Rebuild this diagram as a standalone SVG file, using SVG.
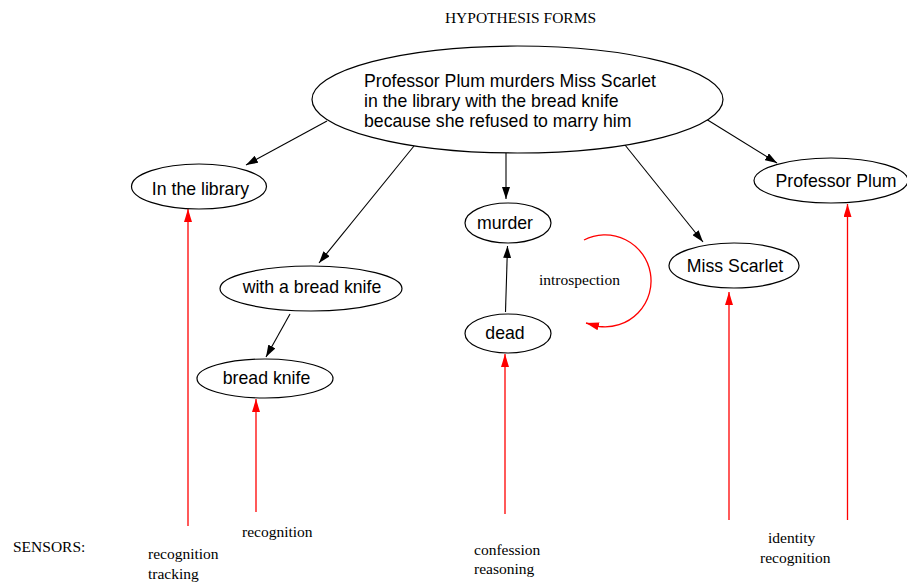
<svg xmlns="http://www.w3.org/2000/svg" width="907" height="583" viewBox="0 0 907 583">
<style>
.node ellipse{fill:#fff;stroke:#000;stroke-width:1.2}
.node text{font-family:"Liberation Sans",Arial,sans-serif;font-size:17.7px;fill:#000;text-anchor:middle}
.lbl{font-family:"Liberation Serif","Times New Roman",serif;font-size:15.5px;fill:#000}
.blk{stroke:#000;stroke-width:1.1;fill:none;marker-end:url(#ab)}
.red{stroke:#f00;stroke-width:1.3;fill:none;marker-end:url(#ar)}
</style>
<defs>
<marker id="ab" markerWidth="12" markerHeight="8" refX="12" refY="4" orient="auto" markerUnits="userSpaceOnUse"><path d="M0,0 L12,4 L0,8 z" fill="#000"/></marker>
<marker id="ar" markerWidth="13" markerHeight="8" refX="13" refY="4" orient="auto" markerUnits="userSpaceOnUse"><path d="M0,0 L13,4 L0,8 z" fill="#f00"/></marker>
</defs>
<rect width="907" height="583" fill="#fff"/>
<text class="lbl" x="520.5" y="23" text-anchor="middle">HYPOTHESIS FORMS</text>
<g id="connectors">
<line class="blk" x1="327" y1="121" x2="246" y2="165"/>
<line class="blk" x1="414" y1="146" x2="319" y2="263"/>
<line class="blk" x1="506" y1="153" x2="506" y2="199"/>
<line class="blk" x1="625" y1="145" x2="703" y2="242"/>
<line class="blk" x1="706" y1="119" x2="777" y2="163"/>
<line class="blk" x1="290" y1="314" x2="266" y2="357"/>
<line class="blk" x1="505.5" y1="312" x2="507.5" y2="246"/>
<line class="red" x1="188" y1="526" x2="188" y2="209"/>
<line class="red" x1="256" y1="512" x2="256" y2="399"/>
<line class="red" x1="505" y1="514" x2="505" y2="354"/>
<line class="red" x1="729" y1="520" x2="729" y2="292"/>
<line class="red" x1="847.5" y1="520" x2="847.5" y2="204"/>
<path class="red" d="M584,240 A46,46 0 1 1 599,326.5 L586,323"/>
<text class="lbl" x="539" y="285">introspection</text>
</g>
<g id="n-main" class="node">
<ellipse cx="517.5" cy="99.5" rx="205.5" ry="53.5"/>
<text x="364" y="86.5" style="text-anchor:start">Professor Plum murders Miss Scarlet</text>
<text x="364" y="106.8" style="text-anchor:start">in the library with the bread knife</text>
<text x="364" y="127" style="text-anchor:start">because she refused to marry him</text>
</g>
<g id="n-library" class="node">
<ellipse cx="199" cy="186.5" rx="67.5" ry="22.5"/>
<text x="200.5" y="195">In the library</text>
</g>
<g id="n-withknife" class="node">
<ellipse cx="311" cy="288.5" rx="91" ry="22.5"/>
<text x="312" y="293.3">with a bread knife</text>
</g>
<g id="n-knife" class="node">
<ellipse cx="265" cy="378.5" rx="68" ry="19.5"/>
<text x="266.5" y="384">bread knife</text>
</g>
<g id="n-murder" class="node">
<ellipse cx="508" cy="223" rx="43" ry="20"/>
<text x="505" y="228.5">murder</text>
</g>
<g id="n-dead" class="node">
<ellipse cx="508" cy="333.5" rx="43" ry="19.5"/>
<text x="505" y="338.5">dead</text>
</g>
<g id="n-scarlet" class="node">
<ellipse cx="734" cy="265.5" rx="65" ry="22.5"/>
<text x="735" y="272">Miss Scarlet</text>
</g>
<g id="n-plum" class="node">
<ellipse cx="831" cy="180.5" rx="77" ry="22.5"/>
<text x="836" y="186.5">Professor Plum</text>
</g>
<g id="sensors">
<text class="lbl" x="13" y="552">SENSORS:</text>
<text class="lbl" x="148" y="559">recognition</text>
<text class="lbl" x="148" y="579">tracking</text>
<text class="lbl" x="242" y="537">recognition</text>
<text class="lbl" x="474" y="555">confession</text>
<text class="lbl" x="474" y="574">reasoning</text>
<text class="lbl" x="768" y="543">identity</text>
<text class="lbl" x="760" y="563">recognition</text>
</g>
</svg>
